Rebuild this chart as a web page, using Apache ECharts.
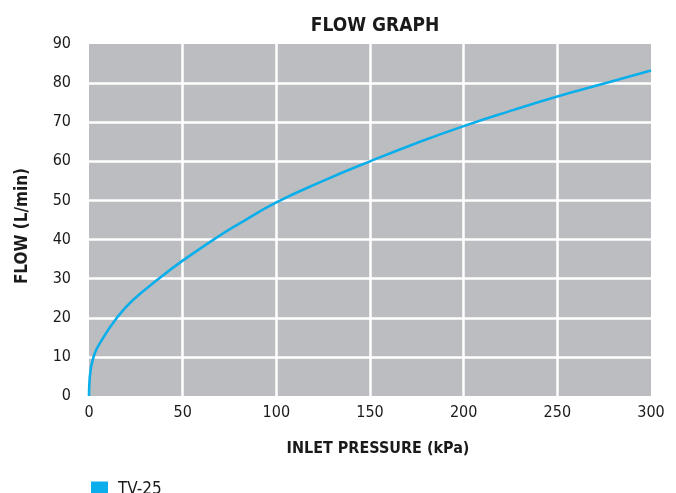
<!DOCTYPE html>
<html>
<head>
<meta charset="utf-8">
<script src="https://cdn.jsdelivr.net/npm/echarts@6/dist/echarts.min.js"></script>
<style>
html,body{margin:0;padding:0;background:#fff;}
#c{width:676px;height:493px;}
</style>
</head>
<body>
<div id="c"></div>
<script>
var pressure = [0, 0.3, 2.4, 6.8, 14.9, 23.2, 37, 50, 66.5, 80, 100, 125, 150, 175, 200, 225, 250, 276, 300];
var flow     = [0, 4, 10, 14.3, 20, 24.4, 29.9, 34.6, 40, 44, 49.5, 55, 60, 64.7, 69, 72.9, 76.6, 80, 83.2];
var seriesName = 'TV-25';
var xTicks = [0, 50, 100, 150, 200, 250, 300];
var yTicks = [0, 10, 20, 30, 40, 50, 60, 70, 80, 90];

var FONT = '"DejaVu Sans Condensed", "Roboto", sans-serif';
var chart = echarts.init(document.getElementById('c'));
var pts = pressure.map(function (p, i) { return [p, flow[i]]; });

chart.setOption({
  animation: false,
  textStyle: { fontFamily: FONT },
  title: {
    text: 'FLOW GRAPH',
    left: 370, top: 12, textAlign: 'center',
    textStyle: { fontFamily: FONT, fontSize: 19, fontWeight: 'bold', color: '#1a1a1a' }
  },
  legend: {
    left: 86, top: 476,
    icon: 'rect', itemWidth: 17, itemHeight: 16, itemGap: 10,
    textStyle: { fontFamily: FONT, fontSize: 17, color: '#1a1a1a', padding: [0, 0, 4, 5] },
    data: [seriesName]
  },
  grid: {
    left: 89, right: 25, top: 44, bottom: 97,
    show: true, backgroundColor: '#bcbdc0', borderWidth: 0
  },
  xAxis: {
    type: 'value', min: xTicks[0], max: xTicks[xTicks.length - 1], interval: 50,
    name: 'INLET PRESSURE (kPa)', nameLocation: 'middle', nameGap: 45,
    nameTextStyle: { fontFamily: FONT, fontSize: 16, fontWeight: 'bold', color: '#1a1a1a', padding: [0, 0, 0, 16] },
    axisLine: { show: false }, axisTick: { show: false },
    axisLabel: { fontFamily: FONT, fontSize: 16, color: '#1a1a1a', margin: 9 },
    splitLine: { show: true, showMinLine: false, showMaxLine: false, lineStyle: { color: '#ffffff', width: 2.5 } }
  },
  yAxis: {
    type: 'value', min: yTicks[0], max: yTicks[yTicks.length - 1], interval: 10,
    name: 'FLOW (L/min)', nameLocation: 'middle', nameGap: 58, nameRotate: 90,
    nameTextStyle: { fontFamily: FONT, fontSize: 17, fontWeight: 'bold', color: '#1a1a1a', padding: [0, 12, 0, 0] },
    axisLine: { show: false }, axisTick: { show: false },
    axisLabel: { fontFamily: FONT, fontSize: 16, color: '#1a1a1a', margin: 18, verticalAlign: 'middle', padding: [0, 0, 6, 0] },
    splitLine: { show: true, showMinLine: false, showMaxLine: false, lineStyle: { color: '#ffffff', width: 2.5 } }
  },
  series: [{
    name: seriesName, type: 'line', data: pts,
    smooth: 0.5,
    showSymbol: false, symbol: 'none',
    color: '#0aaeea',
    lineStyle: { color: '#0aaeea', width: 2.6 }
  }]
});
</script>
</body>
</html>
